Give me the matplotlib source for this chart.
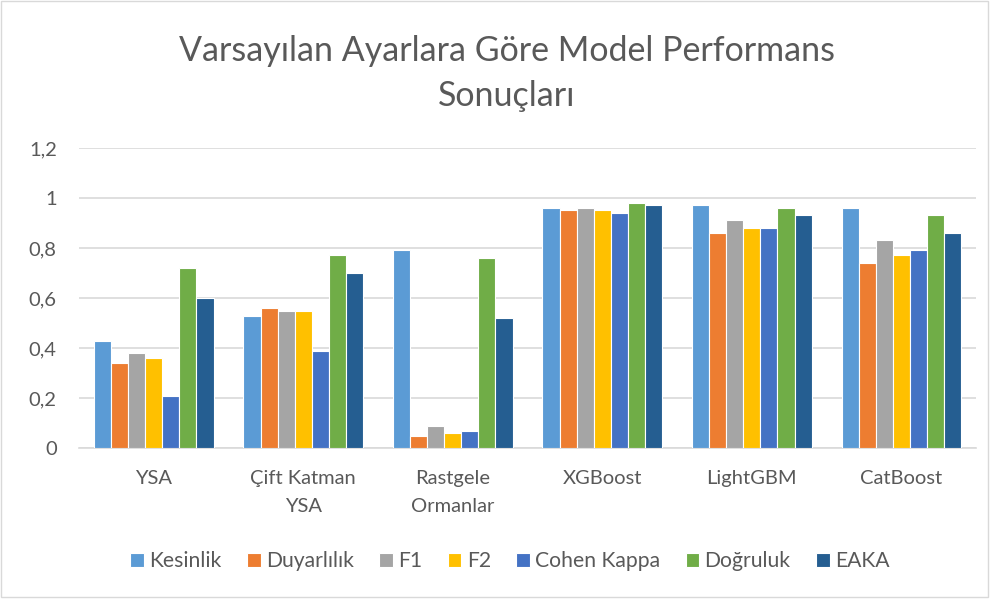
import numpy as np
import matplotlib.pyplot as plt
from matplotlib.patches import Rectangle

plt.rcParams['font.family'] = ['Lato', 'DejaVu Sans']

categories = ['YSA', 'Çift Katman\nYSA', 'Rastgele\nOrmanlar', 'XGBoost', 'LightGBM', 'CatBoost']
series_names = ['Kesinlik', 'Duyarlılık', 'F1', 'F2', 'Cohen Kappa', 'Doğruluk', 'EAKA']
kesinlik = [0.43, 0.53, 0.79, 0.96, 0.97, 0.96]
duyarlilik = [0.34, 0.56, 0.05, 0.95, 0.86, 0.74]
f1 = [0.38, 0.55, 0.09, 0.96, 0.91, 0.83]
f2 = [0.36, 0.55, 0.06, 0.95, 0.88, 0.77]
cohen_kappa = [0.21, 0.39, 0.07, 0.94, 0.88, 0.79]
dogruluk = [0.72, 0.77, 0.76, 0.98, 0.96, 0.93]
eaka = [0.60, 0.70, 0.52, 0.97, 0.93, 0.86]
series = [kesinlik, duyarlilik, f1, f2, cohen_kappa, dogruluk, eaka]
colors = ['#5B9BD5', '#ED7D31', '#A5A5A5', '#FFC000', '#4472C4', '#70AD47', '#255E91']
yticks = [0, 0.2, 0.4, 0.6, 0.8, 1, 1.2]
ytick_labels = ['0', '0,2', '0,4', '0,6', '0,8', '1', '1,2']

txt = '#595959'
fig = plt.figure(figsize=(9.96, 5.99), dpi=100)
ax = fig.add_axes([0.0793, 0.252, 0.9007, 0.501])

x = np.arange(len(categories))
w = 0.8 / len(series)
for i, (vals, c, name) in enumerate(zip(series, colors, series_names)):
    ax.bar(x - 0.4 + w * (i + 0.5), vals, width=w, color=c, label=name,
           edgecolor='white', linewidth=0.8, zorder=3)

ax.set_xlim(-0.5, len(categories) - 0.5)
ax.set_ylim(0, 1.2)
ax.set_yticks(yticks)
ax.set_yticklabels(ytick_labels)
ax.set_xticks(x)
ax.set_xticklabels(categories, linespacing=1.75)
ax.tick_params(axis='both', length=0, labelsize=14.5, colors=txt)
ax.tick_params(axis='x', pad=16)
ax.tick_params(axis='y', pad=16)
ax.grid(axis='y', color='#D9D9D9', linewidth=1.2, zorder=0)
for s in ['top', 'right', 'left']:
    ax.spines[s].set_visible(False)
ax.spines['bottom'].set_color('#D9D9D9')
ax.spines['bottom'].set_linewidth(1.2)

fig.text(0.509, 0.877, 'Varsayılan Ayarlara Göre Model Performans\nSonuçları',
         ha='center', va='center', fontsize=24.5, color=txt, linespacing=1.5)

fig.legend(loc='center', bbox_to_anchor=(0.512, 0.063), ncol=7, frameon=False,
           fontsize=15.2, labelcolor=txt, handlelength=0.65, handleheight=0.65,
           handletextpad=0.25, columnspacing=1.2)

fig.patches.append(Rectangle((0.001, 0.003), 0.991, 0.995, transform=fig.transFigure,
                             fill=False, edgecolor='#D9D9D9', linewidth=1))

fig.savefig('out.png', dpi=100)
